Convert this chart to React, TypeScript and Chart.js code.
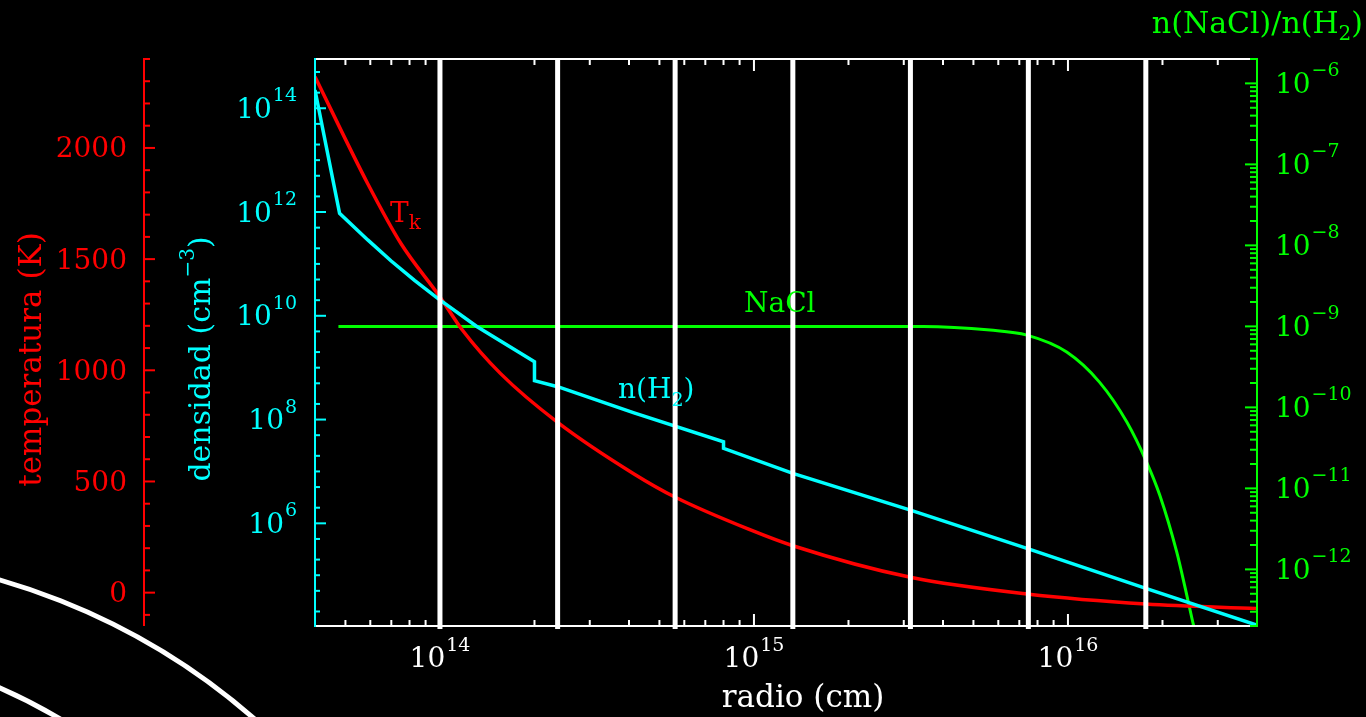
import React, { useEffect, useRef } from "react";
import { Chart, registerables } from "chart.js";

Chart.register(...registerables);

// ---- data ----
const radiusTemp = [4.0e13, 5.89e13, 7.52e13, 1.0e14, 1.18e14, 1.56e14, 2.37e14, 4.15e14, 5.62e14, 9.75e14, 1.33e15, 3.15e15, 7.4e15, 1.77e16, 3.98e16];
const temperature = [2320, 1839, 1569, 1330, 1180, 985, 766, 534, 429, 282, 211, 69, -6, -51, -71];

const radiusDens = [4.0e13, 4.79e13, 5.89e13, 6.98e13, 8.3e13, 9.84e13, 1.31e14, 2.0e14, 2.0e14, 2.37e14, 4.15e14, 8.0e14, 8.0e14, 1.33e15, 3.15e15, 7.4e15, 1.77e16, 3.98e16];
const densityH2 = [2.25e14, 9.46e11, 2.9e11, 1.15e11, 4.8e10, 2.17e10, 6.22e9, 1.3e9, 5.61e8, 4.3e8, 1.35e8, 3.74e7, 2.79e7, 9.2e6, 1.8e6, 3.3e5, 5.58e4, 1.1e4];

const radiusNaCl = [4.75e13, 1.0e14, 1.0e15, 3.46e15, 5.65e15, 7.4e15, 9.91e15, 1.26e16, 1.54e16, 1.78e16, 1.96e16, 2.22e16, 2.39e16, 2.51e16, 2.63e16];
const abundNaCl = [1.0e-9, 1.0e-9, 1.0e-9, 1.0e-9, 9.0e-10, 7.8e-10, 4.82e-10, 2.05e-10, 6.59e-11, 2.11e-11, 8.27e-12, 1.64e-12, 4.82e-13, 2.06e-13, 1.0e-13];

const shellRadii = [1.0e14, 2.37e14, 5.61e14, 1.33e15, 3.15e15, 7.48e15, 1.77e16];

const tempTicks = [0, 500, 1000, 1500, 2000];
const densExponents = [6, 8, 10, 12, 14];
const naclExponents = [-6, -7, -8, -9, -10, -11, -12];
const radiusExponents = [14, 15, 16];

// ---- style ----
const FAM = "'DejaVu Serif', serif";
const RED = "#ff0000";
const CYAN = "#00ffff";
const GREEN = "#00ff00";
const WHITE = "#ffffff";

function font(size: number) {
  return `${size}px ${FAM}`;
}

type Piece = { t: string; size: number; dy?: number };

function piecesWidth(ctx: CanvasRenderingContext2D, pieces: Piece[]) {
  let w = 0;
  for (const p of pieces) {
    ctx.font = font(p.size);
    w += ctx.measureText(p.t).width;
  }
  return w;
}

function drawPieces(ctx: CanvasRenderingContext2D, pieces: Piece[], x: number, y: number, align: "left" | "right" | "center", color: string) {
  const total = piecesWidth(ctx, pieces);
  let cx = align === "left" ? x : align === "right" ? x - total : x - total / 2;
  ctx.fillStyle = color;
  ctx.textAlign = "left";
  ctx.textBaseline = "alphabetic";
  for (const p of pieces) {
    ctx.font = font(p.size);
    ctx.fillText(p.t, cx, y + (p.dy || 0));
    cx += ctx.measureText(p.t).width;
  }
}

function pow10(exp: number): Piece[] {
  const e = exp < 0 ? "\u2212" + String(-exp) : String(exp);
  return [
    { t: "10", size: 28 },
    { t: " ", size: 3 },
    { t: e, size: 19, dy: -16.5 },
  ];
}

function line(ctx: CanvasRenderingContext2D, x1: number, y1: number, x2: number, y2: number) {
  ctx.beginPath();
  ctx.moveTo(x1, y1);
  ctx.lineTo(x2, y2);
  ctx.stroke();
}

const decorPlugin = {
  id: "decor",
  beforeDraw(chart: any) {
    const ctx = chart.ctx as CanvasRenderingContext2D;
    ctx.save();
    ctx.fillStyle = "#000";
    ctx.fillRect(0, 0, chart.width, chart.height);
    ctx.restore();
  },
  afterDatasetsDraw(chart: any) {
    const ctx = chart.ctx as CanvasRenderingContext2D;
    const { top, bottom } = chart.chartArea;
    const xs = chart.scales.x;
    ctx.save();
    ctx.strokeStyle = WHITE;
    ctx.lineWidth = 5;
    for (const r of shellRadii) {
      const px = xs.getPixelForValue(r);
      line(ctx, px, top, px, bottom + 3);
    }
    ctx.restore();
  },
  afterDraw(chart: any) {
    const ctx = chart.ctx as CanvasRenderingContext2D;
    const { left, right, top, bottom } = chart.chartArea;
    const xs = chart.scales.x;
    const yT = chart.scales.yT;
    const yN = chart.scales.yN;
    const yX = chart.scales.yX;
    ctx.save();
    ctx.lineCap = "butt";

    // frame: top & bottom white
    ctx.lineWidth = 2;
    ctx.strokeStyle = WHITE;
    line(ctx, left - 1, top, right, top);
    line(ctx, left - 1, bottom, right, bottom);

    // x ticks
    for (let n = 13; n <= 16; n++) {
      for (let k = 1; k <= 9; k++) {
        const v = k * Math.pow(10, n);
        if (v < xs.min * 1.001 || v > xs.max * 0.999) continue;
        const px = xs.getPixelForValue(v);
        const len = k === 1 ? 12 : 6;
        line(ctx, px, bottom, px, bottom - len);
        line(ctx, px, top, px, top + len);
      }
    }
    for (const e of radiusExponents) {
      const px = xs.getPixelForValue(Math.pow(10, e));
      drawPieces(ctx, pow10(e), px, 667, "center", WHITE);
    }

    // cyan density axis (left of frame)
    ctx.strokeStyle = CYAN;
    line(ctx, left, top - 1, left, bottom + 1);
    for (let n = 4; n <= 15; n++) {
      for (const k of [1, 2, 5]) {
        const v = k * Math.pow(10, n);
        if (v < yN.min || v > yN.max) continue;
        const py = yN.getPixelForValue(v);
        const len = k === 1 && n % 2 === 0 ? 11 : 5;
        line(ctx, left, py, left + len, py);
      }
    }
    for (const e of densExponents) {
      const py = yN.getPixelForValue(Math.pow(10, e));
      drawPieces(ctx, pow10(e), 297, py + 9.5, "right", CYAN);
    }

    // green abundance axis (right of frame)
    ctx.strokeStyle = GREEN;
    line(ctx, right, top - 1, right, bottom + 1);
    for (let n = -13; n <= -6; n++) {
      for (let k = 1; k <= 9; k++) {
        const v = k * Math.pow(10, n);
        if (v < yX.min * 0.999 || v > yX.max * 1.001) continue;
        const py = yX.getPixelForValue(v);
        const len = k === 1 ? 12 : 7;
        line(ctx, right, py, right - len, py);
      }
    }
    for (const e of naclExponents) {
      const py = yX.getPixelForValue(Math.pow(10, e));
      drawPieces(ctx, pow10(e), 1275, py + 9.5, "left", GREEN);
    }

    // red temperature axis (detached)
    const ax = 144;
    ctx.strokeStyle = RED;
    line(ctx, ax, top - 1, ax, bottom);
    for (let v = -100; v <= 2400; v += 100) {
      const py = yT.getPixelForValue(v);
      const len = v % 500 === 0 ? 11 : 6;
      line(ctx, ax, py, ax + len, py);
    }
    ctx.fillStyle = RED;
    ctx.font = font(28);
    ctx.textAlign = "right";
    ctx.textBaseline = "alphabetic";
    for (const t of tempTicks) {
      const py = yT.getPixelForValue(t);
      ctx.fillText(String(t), 127, py + 9.5);
    }

    // axis titles
    ctx.save();
    ctx.translate(41, 359.5);
    ctx.rotate(-Math.PI / 2);
    drawPieces(ctx, [{ t: "temperatura (K)", size: 31 }], 0, 0, "center", RED);
    ctx.restore();

    ctx.save();
    ctx.translate(210, 359);
    ctx.rotate(-Math.PI / 2);
    drawPieces(
      ctx,
      [
        { t: "densidad (cm", size: 30 },
        { t: "\u22123", size: 20, dy: -16 },
        { t: ")", size: 30 },
      ],
      0,
      0,
      "center",
      CYAN
    );
    ctx.restore();

    drawPieces(ctx, [{ t: "radio (cm)", size: 31 }], 803, 707, "center", WHITE);

    drawPieces(
      ctx,
      [
        { t: "n(NaCl)/n(H", size: 30 },
        { t: "2", size: 20, dy: 7 },
        { t: ")", size: 30 },
      ],
      1363,
      33,
      "right",
      GREEN
    );

    // curve labels
    drawPieces(ctx, [{ t: "NaCl", size: 28 }], 744, 311.5, "left", GREEN);
    drawPieces(
      ctx,
      [
        { t: "n(H", size: 28 },
        { t: "2", size: 19, dy: 7.5 },
        { t: ")", size: 28 },
      ],
      618,
      398,
      "left",
      CYAN
    );
    drawPieces(
      ctx,
      [
        { t: "T", size: 28 },
        { t: "k", size: 20, dy: 7.5 },
      ],
      390,
      221.5,
      "left",
      RED
    );

    // decorative white arcs (bottom-left)
    ctx.strokeStyle = WHITE;
    ctx.lineWidth = 5;
    ctx.beginPath();
    ctx.arc(-185.5, 1222.4, 668.6, 0, Math.PI * 2);
    ctx.stroke();
    ctx.beginPath();
    ctx.arc(-226.4, 1200.2, 560, 0, Math.PI * 2);
    ctx.stroke();

    ctx.restore();
  },
};

export default function App() {
  const ref = useRef<HTMLCanvasElement>(null);
  useEffect(() => {
    const canvas = ref.current;
    if (!canvas) return;
    const chart = new Chart(canvas, {
      type: "line",
      data: {
        datasets: [
          {
            label: "n(H2)",
            data: radiusDens.map((r, i) => ({ x: r, y: densityH2[i] })),
            yAxisID: "yN",
            borderColor: CYAN,
            borderWidth: 3.5,
            pointRadius: 0,
            tension: 0,
            clip: 0,
            order: 1,
          },
          {
            label: "Tk",
            data: radiusTemp.map((r, i) => ({ x: r, y: temperature[i] })),
            yAxisID: "yT",
            borderColor: RED,
            borderWidth: 3.5,
            pointRadius: 0,
            cubicInterpolationMode: "monotone",
            clip: 0,
            order: 2,
          },
          {
            label: "NaCl",
            data: radiusNaCl.map((r, i) => ({ x: r, y: abundNaCl[i] })),
            yAxisID: "yX",
            borderColor: GREEN,
            borderWidth: 3,
            pointRadius: 0,
            cubicInterpolationMode: "monotone",
            clip: 0,
            order: 3,
          },
        ] as any,
      },
      options: {
        responsive: false,
        maintainAspectRatio: false,
        animation: false,
        devicePixelRatio: 1,
        events: [],
        layout: { padding: { left: 315, right: 109, top: 59, bottom: 91 } },
        plugins: {
          legend: { display: false },
          tooltip: { enabled: false },
          title: { display: false },
        },
        scales: {
          x: { type: "logarithmic", min: 4e13, max: 4e16, display: false },
          yT: { type: "linear", axis: "y", position: "left", min: -150, max: 2400, display: false },
          yN: { type: "logarithmic", axis: "y", position: "left", min: 1.05e4, max: 8.9e14, display: false },
          yX: { type: "logarithmic", axis: "y", position: "right", min: 2e-13, max: 2e-6, display: false },
        },
      } as any,
      plugins: [decorPlugin],
    });
    return () => chart.destroy();
  }, []);
  return (
    <div style={{ position: "fixed", left: 0, top: 0, width: 1366, height: 717, background: "#000" }}>
      <canvas ref={ref} width={1366} height={717} style={{ display: "block", width: 1366, height: 717 }} />
    </div>
  );
}
